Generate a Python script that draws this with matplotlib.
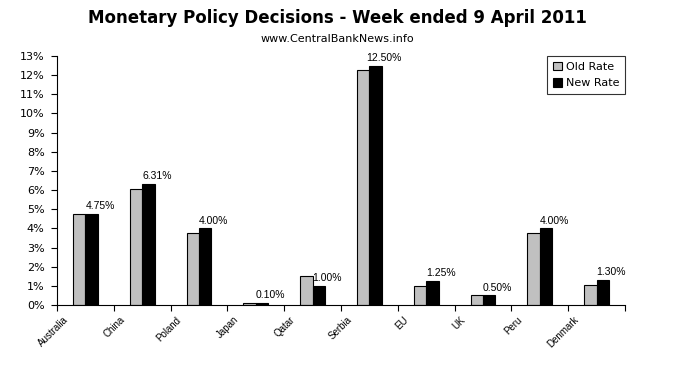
import matplotlib
matplotlib.use("Agg")
import matplotlib.pyplot as plt
import numpy as np
from matplotlib.ticker import FuncFormatter, MultipleLocator

plt.rcParams['font.family'] = ['Liberation Sans', 'DejaVu Sans']

countries = ["Australia", "China", "Poland", "Japan", "Qatar", "Serbia", "EU", "UK", "Peru", "Denmark"]
old_rate = [4.75, 6.06, 3.75, 0.10, 1.50, 12.25, 1.00, 0.50, 3.75, 1.05]
new_rate = [4.75, 6.31, 4.00, 0.10, 1.00, 12.50, 1.25, 0.50, 4.00, 1.30]

fig = plt.figure(figsize=(6.75, 3.67), dpi=100)
ax = fig.add_axes([57/675, 1-305/367, (625-57)/675, (305-56)/367])

x = np.arange(len(countries))
w = 0.22
ax.bar(x - w/2, old_rate, w, color='#C0C0C0', edgecolor='black', linewidth=0.8, label='Old Rate')
ax.bar(x + w/2, new_rate, w, color='black', edgecolor='black', linewidth=0.8, label='New Rate')

for xi, v in zip(x, new_rate):
    ax.text(xi + w/2 + 0.15, v + 0.15, f"{v:.2f}%", ha='center', va='bottom', fontsize=7.5)

ax.set_xlim(-0.5, len(countries) - 0.5)
ax.set_ylim(0, 13)
ax.yaxis.set_major_locator(MultipleLocator(1))
ax.yaxis.set_major_formatter(FuncFormatter(lambda v, p: f"{int(v)}%"))
for lbl in ax.get_yticklabels():
    lbl.set_family('DejaVu Sans')
ax.set_xticks(np.arange(len(countries) + 1) - 0.5)
ax.set_xticklabels([])
ax.set_xticks(x - 0.40, minor=True)
ax.set_xticklabels(countries, minor=True, rotation=45, ha='right', va='top',
                   rotation_mode='anchor', fontsize=7)
ax.tick_params(axis='x', which='minor', length=0, pad=7)
ax.tick_params(axis='x', which='major', direction='out', length=4, width=0.8)
ax.tick_params(axis='y', direction='out', length=4, width=0.8, labelsize=8, pad=5,
               labelfontfamily='DejaVu Sans')

ax.spines['top'].set_visible(False)
ax.spines['right'].set_visible(False)

leg = ax.legend(loc='upper right', bbox_to_anchor=(1.0, 1.0), borderaxespad=0,
                prop={'family': 'DejaVu Sans', 'size': 8}, frameon=True,
                fancybox=False, edgecolor='black', handlelength=0.8, handleheight=0.8,
                handletextpad=0.4, borderpad=0.5, labelspacing=0.6)
leg.get_frame().set_linewidth(0.8)

fig.text(0.5, 1 - 18/367, "Monetary Policy Decisions - Week ended 9 April 2011",
         ha='center', va='center', fontsize=12, fontweight='bold', family='DejaVu Sans')
fig.text(0.5, 1 - 39/367, "www.CentralBankNews.info", ha='center', va='center',
         fontsize=8, family='DejaVu Sans')

fig.savefig("out.png", dpi=100)
